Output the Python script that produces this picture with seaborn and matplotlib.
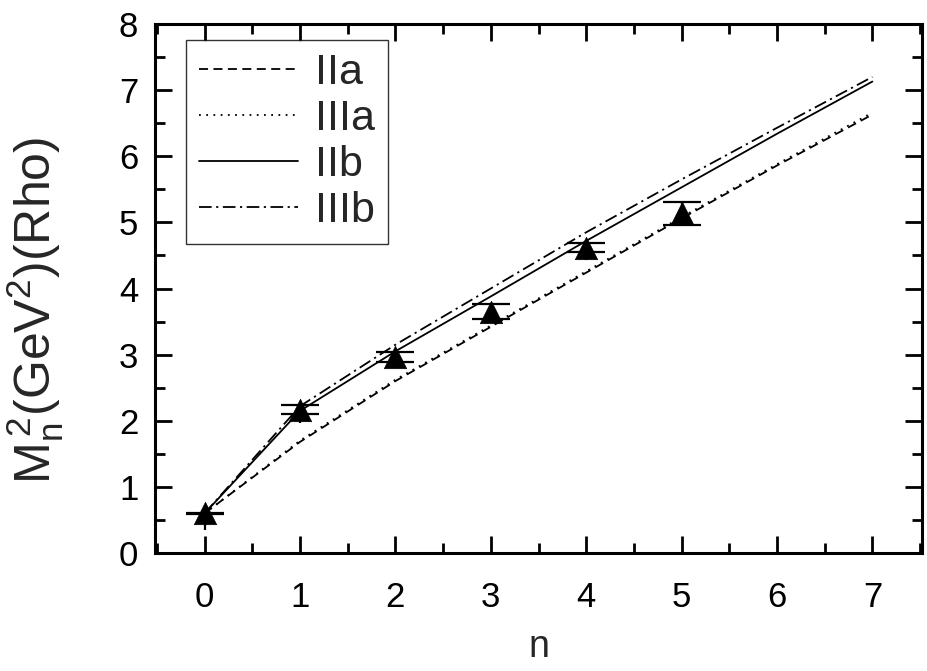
import matplotlib
matplotlib.use("Agg")
import matplotlib.pyplot as plt
import seaborn as sns
import pandas as pd
import numpy as np

# ---- data ----
n_lines = [0, 1, 2, 3, 4, 5, 6, 7]
IIa = [0.60, 1.68, 2.60, 3.42, 4.24, 5.06, 5.86, 6.63]
IIIa = [0.60, 1.70, 2.62, 3.44, 4.26, 5.08, 5.88, 6.66]
IIb = [0.60, 2.15, 3.05, 3.88, 4.72, 5.53, 6.34, 7.13]
IIIb = [0.60, 2.22, 3.15, 4.00, 4.85, 5.65, 6.43, 7.20]

n_exp = [0, 1, 2, 3, 4, 5]
m2_exp = [0.60, 2.17, 2.97, 3.65, 4.62, 5.14]
m2_err = [0.01, 0.075, 0.075, 0.115, 0.07, 0.175]
m2_stub = [0.25, 0.20, 0.17, 0.17, 0.19, 0.18]

series_names = ["IIa", "IIIa", "IIb", "IIIb"]
x_ticks = [0, 1, 2, 3, 4, 5, 6, 7]
y_ticks = [0, 1, 2, 3, 4, 5, 6, 7, 8]

sns.set_theme(style="ticks")
fam = ["Liberation Sans", "DejaVu Sans"]
plt.rcParams["font.family"] = fam
plt.rcParams["mathtext.fontset"] = "custom"
plt.rcParams["mathtext.rm"] = "Liberation Sans"

fig = plt.figure(figsize=(9.27, 6.71), dpi=100)
ax = fig.add_axes([155/927, (671-553)/671, (922-155)/927, (553-24)/671])

df = pd.DataFrame({
    "n": n_lines * 4,
    "M2": IIa + IIIa + IIb + IIIb,
    "model": sum([[s] * len(n_lines) for s in series_names], []),
})
styles = {
    "IIa": (0, (5, 3)),
    "IIIa": (0, (1, 3)),
    "IIb": "-",
    "IIIb": (0, (7, 2.5, 1.2, 2.5)),
}
for s in series_names:
    sns.lineplot(data=df[df["model"] == s], x="n", y="M2", ax=ax, color="black",
                 lw=1.3, linestyle=styles[s], label=s, legend=False)

# error bars: vertical stub and caps
ax.errorbar(n_exp, m2_exp, yerr=[m2_stub, m2_err], fmt="none", ecolor="black",
            elinewidth=1.6, capsize=0, zorder=4)
ax.errorbar(n_exp, m2_exp, yerr=m2_err, fmt="none", ecolor="black",
            elinewidth=0, capsize=14, capthick=1.6, zorder=4)
sns.scatterplot(x=n_exp, y=m2_exp, ax=ax, marker="^", s=260, color="black",
                edgecolor="black", linewidth=0.5, zorder=5, legend=False)

ax.set_xlim(-0.52, 7.52)
ax.set_ylim(0, 8)
ax.set_xticks(x_ticks)
ax.set_yticks(y_ticks)
ax.set_xticks(np.arange(-0.5, 7.6, 1.0), minor=True)
ax.set_yticks(np.arange(0.5, 8, 1.0), minor=True)
ax.tick_params(which="both", direction="in", top=True, right=True, width=2,
               labelsize=25, color="black", labelcolor="black")
ax.tick_params(which="major", length=12)
ax.tick_params(which="minor", length=7)
ax.tick_params(axis="x", labeltop=False, pad=20)
ax.tick_params(axis="y", labelright=False, pad=12)
for sp in ax.spines.values():
    sp.set_linewidth(2.2)
    sp.set_color("black")

ax.set_xlabel("n", fontsize=27)
ax.xaxis.label.set_va("center")
ax.xaxis.set_label_coords(0.5, (553-647)/529)
ax.set_ylabel(r"$\mathregular{M_n^{\,2}(GeV^2)(Rho)}$", fontsize=36)
ax.yaxis.set_label_coords((66-155)/767, (553-310)/529)

handles, labels = ax.get_legend_handles_labels()
leg = ax.legend(handles[:4], labels[:4], loc="upper left",
                bbox_to_anchor=((186-155)/767, (553-40)/529),
                prop={"family": fam, "size": 31}, frameon=True, fancybox=False,
                edgecolor="black", handlelength=2.3, handletextpad=0.4,
                labelspacing=0.14, borderpad=0.3, borderaxespad=0)
leg.get_frame().set_linewidth(1.0)
for h in leg.get_lines():
    h.set_linewidth(1.3)

fig.savefig("out.png", dpi=100)
